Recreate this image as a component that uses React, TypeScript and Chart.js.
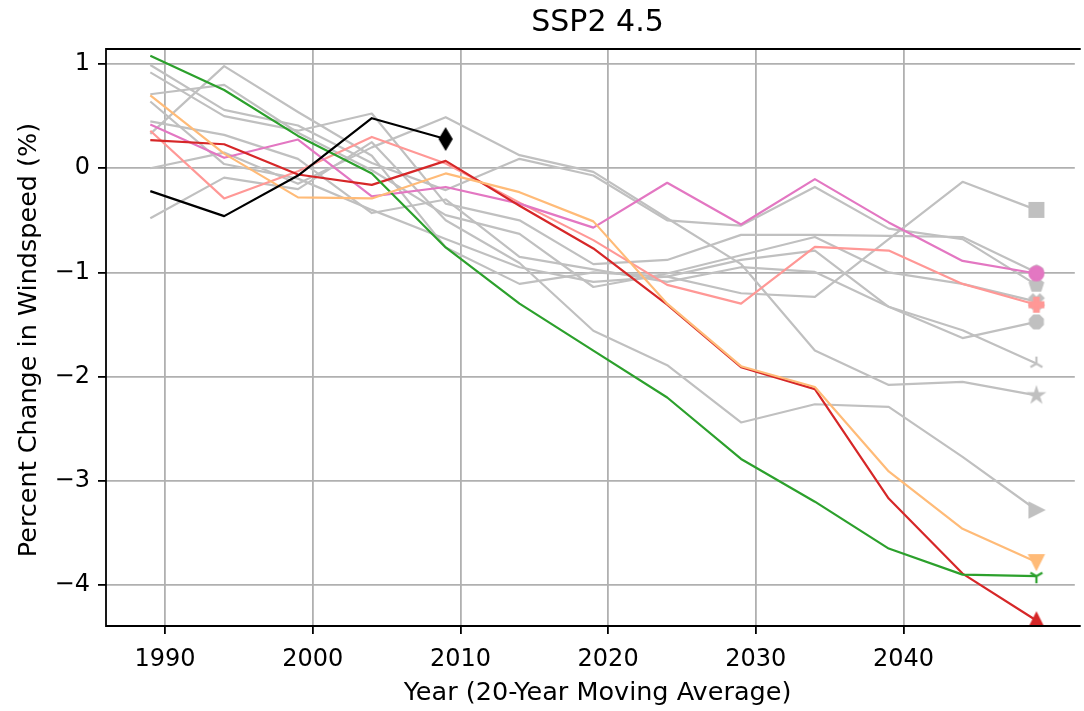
import React, { useEffect, useRef } from 'react';
import { Chart, registerables } from 'chart.js';

Chart.register(...registerables);

// ---- data ----
const years = [1989, 1994, 1999, 2004, 2009, 2014, 2019, 2024, 2029, 2034, 2039, 2044, 2049];
const observedYears = [1989, 1994, 1999, 2004, 2009];
const xTickValues = [1990, 2000, 2010, 2020, 2030, 2040];
const yTickValues = [1, 0, -1, -2, -3, -4];

const titleText = 'SSP2 4.5';
const xLabelText = 'Year (20-Year Moving Average)';
const yLabelText = 'Percent Change in Windspeed (%)';

const observed = [-0.22, -0.46, -0.07, 0.48, 0.28];
const greenSeries = [1.08, 0.75, 0.31, -0.05, -0.76, -1.30, -1.75, -2.20, -2.79, -3.20, -3.65, -3.90, -3.915];
const redSeries = [0.27, 0.23, -0.06, -0.16, 0.07, -0.36, -0.77, -1.31, -1.91, -2.12, -3.17, -3.89, -4.34];
const orangeSeries = [0.70, 0.14, -0.28, -0.29, -0.05, -0.23, -0.51, -1.30, -1.90, -2.10, -2.91, -3.46, -3.78];
const pinkSeries = [0.42, 0.10, 0.275, -0.27, -0.18, -0.34, -0.57, -0.14, -0.54, -0.105, -0.52, -0.89, -1.01];
const salmonSeries = [0.36, -0.29, -0.03, 0.30, 0.045, -0.33, -0.69, -1.12, -1.30, -0.755, -0.79, -1.11, -1.31];

const graySquare = [0.33, 0.98, 0.54, 0.12, -0.76, -1.11, -1.00, -1.04, -1.20, -1.235, -0.68, -0.13, -0.40];
const grayPentagon = [0.99, 0.56, 0.41, 0.05, -0.21, 0.09, -0.07, -0.50, -0.55, -0.18, -0.58, -0.68, -1.12];
const grayHexagon = [0.92, 0.50, 0.36, 0.525, -0.34, -0.50, -0.92, -0.88, -0.64, -0.64, -0.65, -0.66, -1.00];
const grayX = [0.71, 0.80, 0.34, -0.02, -0.45, -0.63, -1.14, -1.01, -0.835, -0.66, -1.00, -1.11, -1.28];
const grayOctagon = [0.64, 0.04, -0.10, -0.40, -0.68, -0.95, -1.09, -1.04, -0.88, -0.79, -1.33, -1.63, -1.475];
const grayTriUp = [0.45, 0.32, 0.09, -0.43, -0.30, -0.85, -0.97, -1.09, -0.95, -0.995, -1.33, -1.555, -1.875];
const grayStar = [0.00, 0.15, -0.15, 0.20, 0.49, 0.125, -0.035, -0.48, -0.92, -1.75, -2.08, -2.05, -2.18];
const grayTriRight = [-0.48, -0.09, -0.20, 0.25, -0.50, -0.91, -1.56, -1.89, -2.44, -2.265, -2.29, -2.77, -3.28];

const GRAY = '#c0c0c0';
const FONT = '"DejaVu Sans", "Liberation Sans", sans-serif';

function makeMarker(kind: string, color: string, size = 13.8): HTMLCanvasElement {
  const ew = 2.2;
  const dim = Math.ceil(size * 1.7 + ew * 2 + 2);
  const c = document.createElement('canvas');
  c.width = dim;
  c.height = dim;
  const g = c.getContext('2d') as CanvasRenderingContext2D;
  g.translate(dim / 2, dim / 2);
  g.fillStyle = color;
  g.strokeStyle = color;
  g.lineWidth = ew;
  g.lineJoin = 'miter';
  const s = size;
  const poly = (pts: number[][]) => {
    g.beginPath();
    pts.forEach(([x, y], i) => (i ? g.lineTo(x * s, y * s) : g.moveTo(x * s, y * s)));
    g.closePath();
    g.fill();
    g.stroke();
  };
  const reg = (n: number, r: number, startDeg: number) => {
    const pts: number[][] = [];
    for (let k = 0; k < n; k++) {
      const a = ((startDeg + (k * 360) / n) * Math.PI) / 180;
      pts.push([r * Math.cos(a), -r * Math.sin(a)]);
    }
    return pts;
  };
  switch (kind) {
    case 'circle':
      g.beginPath();
      g.arc(0, 0, 0.5 * s, 0, Math.PI * 2);
      g.fill();
      g.stroke();
      break;
    case 'square':
      poly([[-0.5, -0.5], [0.5, -0.5], [0.5, 0.5], [-0.5, 0.5]]);
      break;
    case 'triUpFilled':
      poly([[0, -0.5], [0.5, 0.5], [-0.5, 0.5]]);
      break;
    case 'triDownFilled':
      poly([[0, 0.5], [-0.5, -0.5], [0.5, -0.5]]);
      break;
    case 'triRightFilled':
      poly([[0.5, 0], [-0.5, 0.5], [-0.5, -0.5]]);
      break;
    case 'thinDiamond':
      poly([[0, -0.707], [0.424, 0], [0, 0.707], [-0.424, 0]]);
      break;
    case 'pentagon':
      poly(reg(5, 0.5, 90));
      break;
    case 'hexagon':
      poly(reg(6, 0.5, 90));
      break;
    case 'octagon':
      poly(reg(8, 0.5, 22.5));
      break;
    case 'star': {
      const pts: number[][] = [];
      for (let k = 0; k < 10; k++) {
        const r = k % 2 === 0 ? 0.5 : 0.5 * 0.381966;
        const a = ((90 + k * 36) * Math.PI) / 180;
        pts.push([r * Math.cos(a), -r * Math.sin(a)]);
      }
      poly(pts);
      break;
    }
    case 'plusFilled':
      poly([[-1, -3], [-1, -1], [-3, -1], [-3, 1], [-1, 1], [-1, 3], [1, 3], [1, 1], [3, 1], [3, -1], [1, -1], [1, -3]].map(([x, y]) => [x / 6, y / 6]));
      break;
    case 'xFilled':
      poly([[-1, -2], [0, -1], [1, -2], [2, -1], [1, 0], [2, 1], [1, 2], [0, 1], [-1, 2], [-2, 1], [-1, 0], [-2, -1]].map(([x, y]) => [x / 4, y / 4]));
      break;
    case 'triDownLines':
    case 'triUpLines': {
      const sign = kind === 'triDownLines' ? 1 : -1;
      g.lineCap = 'butt';
      g.beginPath();
      g.moveTo(0, 0);
      g.lineTo(0, sign * 0.5 * s);
      g.moveTo(0, 0);
      g.lineTo(0.433 * s, -sign * 0.25 * s);
      g.moveTo(0, 0);
      g.lineTo(-0.433 * s, -sign * 0.25 * s);
      g.stroke();
      break;
    }
  }
  return c;
}

const decorPlugin = {
  id: 'decor',
  afterDatasetsDraw(chart: any) {
    const { ctx, chartArea } = chart;
    ctx.save();
    ctx.strokeStyle = '#000';
    ctx.lineWidth = 1.8;
    ctx.lineCap = 'square';
    ctx.beginPath();
    ctx.moveTo(chartArea.left, chartArea.top);
    ctx.lineTo(chartArea.right + 5, chartArea.top);
    ctx.moveTo(chartArea.left, chartArea.top);
    ctx.lineTo(chartArea.left, chartArea.bottom);
    ctx.lineTo(chartArea.right + 5, chartArea.bottom);
    ctx.stroke();
    ctx.fillStyle = '#000';
    ctx.textAlign = 'center';
    ctx.textBaseline = 'middle';
    ctx.font = `30px ${FONT}`;
    ctx.fillText(titleText, 597.5, 23);
    ctx.font = `25.5px ${FONT}`;
    ctx.fillText(xLabelText, 597.5, 693);
    ctx.translate(29, 340);
    ctx.rotate(-Math.PI / 2);
    ctx.fillText(yLabelText, 0, 0);
    ctx.restore();
  },
};

export default function App() {
  const ref = useRef<HTMLCanvasElement | null>(null);

  useEffect(() => {
    if (!ref.current) return;
    const last = years.length - 1;
    const radii = years.map((_, i) => (i === last ? 7 : 0));
    const mk = (label: string, xs: number[], vals: number[], color: string, marker: string, r = radii) => ({
      label,
      data: xs.map((x, i) => ({ x, y: vals[i] })),
      borderColor: color,
      backgroundColor: color,
      borderWidth: 2.2,
      borderJoinStyle: 'round' as const,
      tension: 0,
      fill: false,
      pointRadius: r,
      pointHoverRadius: r,
      pointStyle: makeMarker(marker, color),
      pointBackgroundColor: color,
      pointBorderColor: color,
    });
    const obsRadii = observedYears.map((_, i) => (i === observedYears.length - 1 ? 7 : 0));

    const datasets = [
      mk('Observed', observedYears, observed, '#000000', 'thinDiamond', obsRadii),
      mk('Model O', years, orangeSeries, '#ffbb78', 'triDownFilled'),
      mk('Model G', years, greenSeries, '#2ca02c', 'triDownLines'),
      mk('Model R', years, redSeries, '#d62728', 'triUpFilled'),
      mk('Model P', years, pinkSeries, '#e377c2', 'circle'),
      mk('Model S', years, salmonSeries, '#ff9896', 'plusFilled'),
      mk('Gray 1', years, graySquare, GRAY, 'square'),
      mk('Gray 2', years, grayPentagon, GRAY, 'pentagon'),
      mk('Gray 3', years, grayHexagon, GRAY, 'hexagon'),
      mk('Gray 4', years, grayX, GRAY, 'xFilled'),
      mk('Gray 5', years, grayOctagon, GRAY, 'octagon'),
      mk('Gray 6', years, grayTriUp, GRAY, 'triUpLines'),
      mk('Gray 7', years, grayStar, GRAY, 'star'),
      mk('Gray 8', years, grayTriRight, GRAY, 'triRightFilled'),
    ];

    const chart = new Chart(ref.current, {
      type: 'line',
      data: { datasets },
      options: {
        animation: false,
        responsive: true,
        maintainAspectRatio: false,
        devicePixelRatio: 1,
        events: [],
        layout: { padding: { top: 49, left: 0, right: 0, bottom: 0 } },
        plugins: {
          legend: { display: false },
          title: { display: false },
          tooltip: { enabled: false },
        },
        scales: {
          x: {
            type: 'linear',
            min: 1986,
            max: 2051.6,
            afterBuildTicks: (scale: any) => {
              scale.ticks = xTickValues.map((v) => ({ value: v }));
            },
            afterFit: (scale: any) => {
              scale.height = 85;
            },
            ticks: {
              autoSkip: false,
              maxRotation: 0,
              padding: 11,
              color: '#000',
              font: { family: FONT, size: 24 },
              callback: (v: any) => String(v),
            },
            grid: {
              color: '#b0b0b0',
              lineWidth: 1.8,
              tickLength: 8,
              tickColor: '#000',
              tickWidth: 1.8,
            },
            border: { display: false },
          },
          y: {
            type: 'linear',
            min: -4.393,
            max: 1.144,
            afterBuildTicks: (scale: any) => {
              scale.ticks = yTickValues.map((v) => ({ value: v }));
            },
            afterFit: (scale: any) => {
              scale.width = 106;
            },
            ticks: {
              autoSkip: false,
              padding: 8,
              color: '#000',
              font: { family: FONT, size: 24 },
              callback: (v: any) => (Number(v) < 0 ? '\u2212' + Math.abs(Number(v)) : String(v)),
            },
            grid: {
              color: '#b0b0b0',
              lineWidth: 1.8,
              tickLength: 8,
              tickColor: '#000',
              tickWidth: 1.8,
            },
            border: { display: false },
          },
        },
      },
      plugins: [decorPlugin],
    } as any);

    return () => chart.destroy();
  }, []);

  return (
    <div style={{ position: 'absolute', left: 0, top: 0, width: 1084, height: 711, background: '#fff' }}>
      <canvas ref={ref} />
    </div>
  );
}
